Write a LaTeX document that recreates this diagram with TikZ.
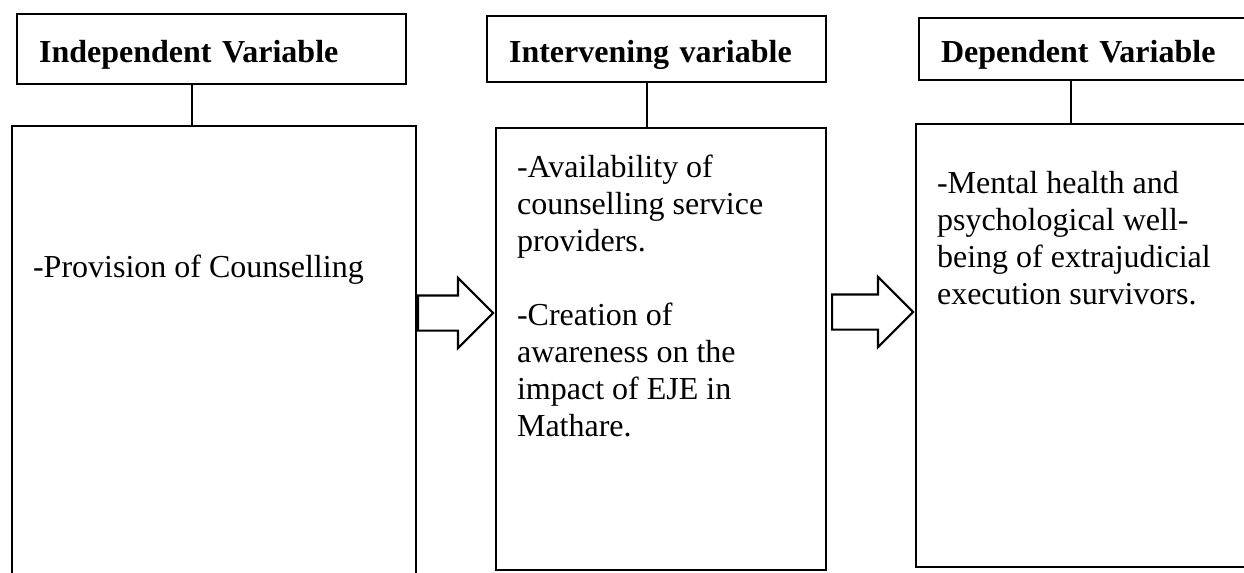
\documentclass[tikz,border=0pt]{standalone}
\usepackage{fontspec}
\setmainfont{Liberation Serif}
\usetikzlibrary{shapes.arrows}
\newcommand{\pxu}{0.375pt}

\begin{document}
\begin{tikzpicture}[x=\pxu, y=-\pxu, line width=0.8pt,
  varhead/.style={draw, anchor=north west, inner xsep=22*\pxu, inner ysep=0pt,
    text height=9.75pt, text depth=0pt, align=left,
    font=\bfseries\fontsize{12}{13.875}\selectfont},
  varbox/.style={draw, anchor=north west, inner sep=0pt},
  vartext/.style={anchor=north west, inner sep=0pt, align=left,
    font=\fontsize{12}{13.875}\selectfont},
  fatarrow/.style={draw, single arrow, anchor=tail, inner xsep=0pt, inner ysep=16.5*\pxu,
    text height=0pt, text depth=0pt, minimum width=68*\pxu, single arrow head extend=17.5*\pxu}]
  % Page frame
  \useasboundingbox (0,0) rectangle (1244,572);
  \clip (0,0) rectangle (1244,572);
  % Header boxes
  \node[varhead, text width=345*\pxu, minimum height=70*\pxu] (indhead) at (16,13) {Independent Variable};
  \node[varhead, text width=295*\pxu, minimum height=66*\pxu] (inthead) at (486,15) {Intervening variable};
  \node[varhead, text width=296*\pxu, minimum height=62*\pxu] (dephead) at (918,17) {Dependent Variable};
  % Variable boxes
  \node[varbox, minimum width=404*\pxu, minimum height=470*\pxu] (indbox) at (11,125) {};
  \node[varbox, minimum width=330*\pxu, minimum height=442*\pxu] (intbox) at (495,127) {};
  \node[varbox, minimum width=360*\pxu, minimum height=443*\pxu] (depbox) at (915,123) {};
  % Links from header to box
  \coordinate (indlink) at (192,0);
  \coordinate (intlink) at (647,0);
  \coordinate (deplink) at (1071,0);
  \draw (indhead.south -| indlink) -- (indbox.north -| indlink);
  \draw (inthead.south -| intlink) -- (intbox.north -| intlink);
  \draw (dephead.south -| deplink) -- (depbox.north -| deplink);
  % Block arrows
  \node[fatarrow, minimum height=75*\pxu] (indarrow) at (417,313) {};
  \node[fatarrow, minimum height=81*\pxu] (intarrow) at (831,312) {};
  % Box texts
  \node[vartext] (indtext) at (32,251) {\strut-Provision of Counselling};
  \node[vartext] (inttext) at (516,151) {\strut-Availability of\\counselling service\\providers.\\[13.875pt]
    -Creation of\\awareness on the\\impact of EJE in\\Mathare.};
  \node[vartext] (deptext) at (936,167) {\strut-Mental health and\\psychological well-\\being of extrajudicial\\execution survivors.};
\end{tikzpicture}
\end{document}
